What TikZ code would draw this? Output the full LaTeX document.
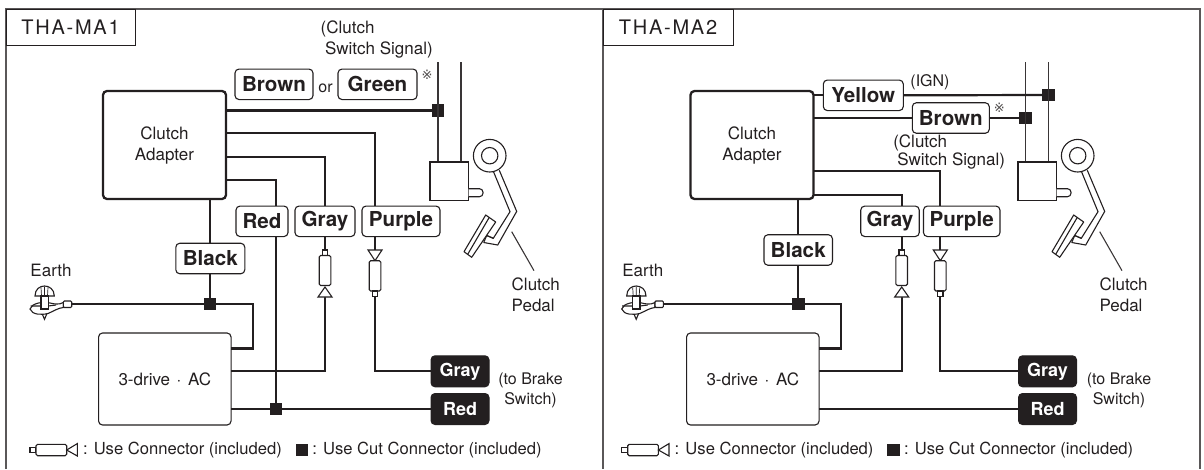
\documentclass[tikz,border=0pt]{standalone}
\usepackage{fontspec}
\setmainfont{TeX Gyre Heros}
\newfontfamily\tabfont[LetterSpace=9]{TeX Gyre Heros}
\newfontfamily\symfont{DejaVu Sans}
\definecolor{ink}{HTML}{231F20}
\tikzset{
  every node/.style={inner sep=0pt,outer sep=0pt,text=ink},
  frameline/.style={draw=ink!75,line width=1.5pt},
  wire/.style={draw=ink,line width=2.2pt,line join=miter},
  thinwire/.style={draw=ink!90,line width=1.1pt},
  part/.style={draw=ink,line width=1.1pt},
  tabbox/.style={draw=ink,fill=white,line width=1pt,font=\tabfont\fontsize{20}{24}\selectfont},
  adapter/.style={draw=ink,fill=white,line width=2.3pt,rounded corners=4pt,align=center,font=\fontsize{17}{21}\selectfont},
  unitbox/.style={draw=ink,fill=white,line width=1.1pt,rounded corners=4pt,font=\fontsize{17}{21}\selectfont},
  lbl/.style={draw=ink,fill=white,line width=1.1pt,rounded corners=4pt,font=\bfseries\fontsize{20.6}{24}\selectfont},
  darklbl/.style={draw=ink,fill=ink,line width=1pt,rounded corners=4pt,text=white,minimum width=58pt,minimum height=31pt,font=\bfseries\fontsize{18}{22}\selectfont},
  cut/.style={draw=none,fill=ink,minimum size=12.5pt},
  txt/.style={font=\fontsize{17}{21}\selectfont,align=left},
  ctxt/.style={font=\fontsize{16}{19.5}\selectfont,align=center},
  legendtxt/.style={font=\fontsize{16.6}{20}\selectfont,anchor=west},
  refmark/.style={font=\symfont\fontsize{13}{15}\selectfont,text=ink!80},
  connup/.pic={
    \draw[part,fill=white] (-2.7,0) rectangle (2.7,5.5);
    \draw[part,fill=white,rounded corners=1.5pt] (-5.8,5.5) rectangle (5.8,35.5);
    \draw[part,fill=white] (0,37) -- (7,47) -- (-7,47) -- cycle;
  },
  conndown/.pic={
    \draw[part,fill=white] (0,10.7) -- (7,0) -- (-7,0) -- cycle;
    \draw[part,fill=white,rounded corners=1.5pt] (-5.8,10.7) rectangle (5.8,41);
    \draw[part,fill=white] (-2.7,41) rectangle (2.7,46.7);
  },
  pedal/.pic={
    \draw[part,fill=white] (430,162) rectangle (468.7,200.5);
    \draw[part,fill=white,rounded corners=3.5pt] (468.7,188.7) -- (483,188.7) -- (483,196.7) -- (468.7,196.7);
    \draw[part] (489.7,155.7) circle (16.3);
    \draw[part] (489.7,155.7) circle (8.2);
    \draw[part] (493.3,171.2) -- (510,211.7) -- (493.3,238.3) -- (486.7,235.5);
    \draw[part] (499.3,170.3) -- (516.7,211.4) -- (497.7,245) -- (483.7,242.5);
    \draw[part] (486.7,235.5) -- (483.7,242.5);
    \draw[part,fill=white,line join=round] (485.7,215) -- (495.7,222) -- (471.7,257.3) -- (464,251.7) -- cycle;
    \draw[part] (489.3,217.3) -- (467.7,254.3);
    \draw[part] (486.7,235.5) -- (493.3,238.3);
    \draw[thinwire] (511.7,231.7) -- (534,270.7);
  },
  screw/.pic={
    \draw[part,fill=white] (35,296) .. controls (35,289) and (40,286) .. (44.5,286) .. controls (49,286) and (54.3,289) .. (54.3,296) -- cycle;
    \draw[part,line width=.7pt] (41,287.5) -- (41.5,296) (44.5,286.5) -- (44.5,296) (48,287.5) -- (47.5,296);
    \draw[part,fill=white] (41,311) -- (44.5,319.3) -- (48,311) -- cycle;
    \draw[part,fill=white] (30,309) .. controls (32,303) and (42,301.5) .. (50,303) .. controls (54,304) and (59,305) .. (63.3,302.5) -- (63.3,307.5) .. controls (58,308) and (54,311) .. (48,313.5) .. controls (42,315) and (32,315) .. (30,309) -- cycle;
    \draw[part,fill=white] (41,296) rectangle (48.3,309);
    \draw[part] (30.5,306) -- (41,306) (48.3,306) -- (56,305);
    \draw[part,fill=white,rounded corners=1pt] (63.3,301) rectangle (71.7,307.5);
  },
  legendconn/.pic={
    \draw[part,fill=white] (30,447.3) rectangle (36,452.7);
    \draw[part,fill=white,rounded corners=1.5pt] (36,444.3) rectangle (66.7,455.7);
    \draw[part,fill=white] (66.7,450) -- (77.3,443.6) -- (77.3,456) -- cycle;
  }
}
\newcommand{\drivetext}{3-drive\hspace{6.6pt}·\hspace{6.6pt}AC}
\begin{document}
\begin{tikzpicture}[x=1pt,y=-1pt]
\useasboundingbox (0,0) rectangle (1204,469);
% frames
\draw[frameline] (6,469) -- (6,9) -- (1200,9) -- (1200,469);
\draw[frameline] (603,9) -- (603,469);
\node[tabbox,minimum width=129pt,minimum height=36pt] (tab1) at (70.5,27) {THA-MA1};
\node[tabbox,minimum width=130pt,minimum height=36pt] (tab2) at (668,27) {THA-MA2};

%% ---------- panel 1 ----------
\node[adapter,minimum width=123pt,minimum height=108pt] (ca1) at (164.5,145) {Clutch\\Adapter};
\node[unitbox,minimum width=132.5pt,minimum height=92pt] (dr1) at (164.8,379) {\drivetext};
\node[lbl,minimum width=78pt,minimum height=30.5pt] (brown1) at (274,84.3) {Brown};
\node[lbl,minimum width=79pt,minimum height=30.5pt] (green1) at (377.5,84.3) {Green};
\node[font=\fontsize{16}{19}\selectfont] (or1) at (325.5,88.5) {or};
\node[refmark] (star1) at (427,75) {※};
\node[txt,anchor=west] (sig1) at (320.7,40) {(Clutch\\\hspace*{4.3pt}Switch Signal)};
\node[lbl,minimum width=52pt,minimum height=30.5pt] (red1) at (262,221.3) {Red};
\node[lbl,minimum width=60pt,minimum height=30.5pt] (gray1) at (325,221.3) {Gray};
\node[lbl,minimum width=78pt,minimum height=30.5pt] (purple1) at (401,221.3) {Purple};
\node[lbl,minimum width=69pt,minimum height=30.5pt] (black1) at (210.3,258.5) {Black};
\node[darklbl] (dgray1) at (460,371.3) {Gray};
\node[darklbl] (dred1) at (460,409) {Red};
\node[cut] (j1a) at (438,110.5) {};
\node[cut] (j1b) at (210,304) {};
\node[cut] (j1c) at (276,409) {};
\node[txt] (earth1) at (51,270) {Earth};
\node[ctxt] (brake1) at (530.5,390.3) {(to Brake\\Switch)};
\node[txt,anchor=west] (pedal1) at (511.7,294.5) {Clutch\\Pedal};

\coordinate (sw1a) at (438,62);
\coordinate (sw1b) at (461,62);
\coordinate (sw1c) at (438,162);
\coordinate (sw1d) at (461,162);
\draw[thinwire] (sw1a) -- (sw1c);
\draw[thinwire] (sw1b) -- (sw1d);

\coordinate (e1) at (71.7,304);
\coordinate (g1t) at (325,250);
\coordinate (g1b) at (325,297);
\coordinate (p1t) at (375,250);
\coordinate (p1b) at (375,296.7);
\draw[wire] (ca1.east |- j1a) -- (j1a);
\draw[wire] (ca1.east |- 0,133) -| (purple1.north -| p1t);
\draw[wire] (ca1.east |- 0,157) -| (gray1.north);
\draw[wire] (ca1.east |- 0,180) -| (red1.north -| j1c);
\draw[wire] (red1.south -| j1c) -- (j1c);
\draw[wire] (black1 |- ca1.south) -- (black1.north);
\draw[wire] (black1.south -| j1b) -- (j1b);
\draw[wire] (e1) -- (j1b);
\draw[wire] (j1b) -- (253,304) |- (dr1.east |- 0,348.5);
\draw[wire] (gray1.south) -- (g1t);
\draw[wire] (purple1.south -| p1t) -- (p1t);
\draw[wire] (dr1.east |- 0,371) -| (g1b);
\draw[wire] (p1b) |- (dgray1.west);
\draw[wire] (dr1.east |- j1c) -- (j1c);
\draw[wire] (j1c) -- (dred1.west);
\pic at (g1t) {connup};
\pic at (p1t) {conndown};
\pic at (0,0) {pedal};
\pic at (0,0) {screw};
\pic at (0,0) {legendconn};
\node[legendtxt] (leg1a) at (83,450) {: Use Connector (included)};
\node[cut] (leg1s) at (302.2,450) {};
\node[legendtxt] (leg1b) at (312.3,450) {: Use Cut Connector (included)};

%% ---------- panel 2 ----------
\node[adapter,minimum width=123pt,minimum height=108pt] (ca2) at (752,145) {Clutch\\Adapter};
\node[unitbox,minimum width=132.5pt,minimum height=92pt] (dr2) at (752.8,379) {\drivetext};
\node[lbl,minimum width=80pt,minimum height=30.5pt] (yellow2) at (863.3,95.3) {Yellow};
\node[lbl,minimum width=77pt,minimum height=30.5pt] (brown2) at (950.8,118) {Brown};
\node[refmark] (star2) at (999.3,107.7) {※};
\node[ctxt] (ign2) at (930,82.7) {(IGN)};
\node[txt,anchor=west,font=\fontsize{17}{17.7}\selectfont] (sig2) at (893.3,152) {(Clutch\\\hspace*{4pt}Switch Signal)};
\node[lbl,minimum width=58.5pt,minimum height=30.5pt] (gray2) at (890,221.3) {Gray};
\node[lbl,minimum width=76.5pt,minimum height=30.5pt] (purple2) at (961.7,221.3) {Purple};
\node[lbl,minimum width=68.5pt,minimum height=30.5pt] (black2) at (798.2,250) {Black};
\node[darklbl] (dgray2) at (1047.5,371.3) {Gray};
\node[darklbl] (dred2) at (1047.5,409) {Red};
\node[cut] (j2a) at (1048.7,95) {};
\node[cut] (j2b) at (1025.7,118) {};
\node[cut] (j2c) at (798.3,304) {};
\node[txt] (earth2) at (642.8,270) {Earth};
\node[ctxt] (brake2) at (1119,390.3) {(to Brake\\Switch)};
\node[txt,anchor=west] (pedal2) at (1099.5,294.5) {Clutch\\Pedal};

\coordinate (sw2a) at (1025.7,62);
\coordinate (sw2b) at (1048.7,62);
\coordinate (sw2c) at (1025.7,162);
\coordinate (sw2d) at (1048.7,162);
\draw[thinwire] (sw2a) -- (sw2c);
\draw[thinwire] (sw2b) -- (sw2d);

\coordinate (e2) at (663.4,304);
\coordinate (g2t) at (901.7,250);
\coordinate (g2b) at (901.7,297);
\coordinate (p2t) at (940.3,250);
\coordinate (p2b) at (940.3,296.7);
\draw[wire] (ca2.east |- yellow2.west) -- (yellow2.west);
\draw[wire] (yellow2.east) -- (j2a);
\draw[wire] (ca2.east |- brown2.west) -- (brown2.west);
\draw[wire] (brown2.east) -- (j2b);
\draw[wire] (ca2.east |- 0,171) -| (purple2.north -| p2t);
\draw[wire] (ca2.east |- 0,195) -| (gray2.north -| g2t);
\draw[wire] (black2 |- ca2.south) -- (black2.north);
\draw[wire] (black2.south -| j2c) -- (j2c);
\draw[wire] (e2) -- (j2c);
\draw[wire] (j2c) -- (841,304) |- (dr2.east |- 0,348.5);
\draw[wire] (gray2.south -| g2t) -- (g2t);
\draw[wire] (purple2.south -| p2t) -- (p2t);
\draw[wire] (dr2.east |- 0,371) -| (g2b);
\draw[wire] (p2b) |- (dgray2.west);
\draw[wire] (dr2.east |- dred2.west) -- (dred2.west);
\pic at (g2t) {connup};
\pic at (p2t) {conndown};
\pic at (588,0) {pedal};
\pic at (591.7,0) {screw};
\pic at (591.7,0) {legendconn};
\node[legendtxt] (leg2a) at (674.7,450) {: Use Connector (included)};
\node[cut] (leg2s) at (893.7,450) {};
\node[legendtxt] (leg2b) at (904,450) {: Use Cut Connector (included)};
\end{tikzpicture}
\end{document}
